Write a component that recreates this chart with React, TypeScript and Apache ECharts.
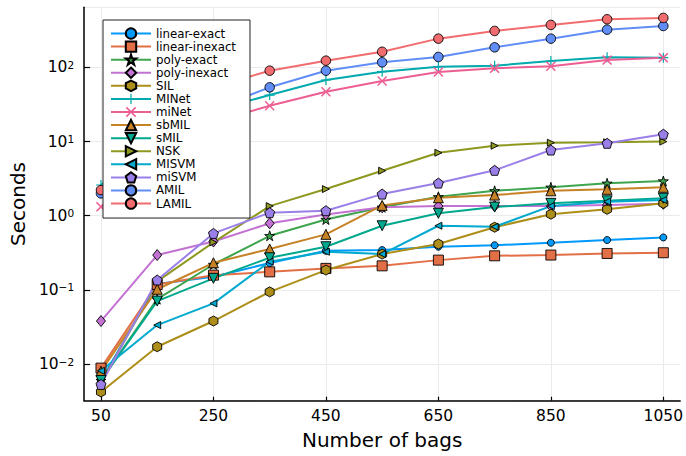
import React, { useEffect, useRef } from "react";
import * as echarts from "echarts";

const bags = [50, 150, 250, 350, 450, 550, 650, 750, 850, 950, 1050];
const xTicks = [50, 250, 450, 650, 850, 1050];

const linearExact = [0.006, 0.12, 0.15, 0.23, 0.337, 0.344, 0.382, 0.4, 0.432, 0.47, 0.51];
const linearInexact = [0.0088, 0.118, 0.158, 0.175, 0.195, 0.211, 0.252, 0.288, 0.295, 0.31, 0.317];
const polyExact = [0.006, 0.075, 0.22, 0.537, 0.89, 1.3, 1.8, 2.17, 2.42, 2.74, 2.94];
const polyInexact = [0.038, 0.295, 0.45, 0.79, 1.04, 1.3, 1.35, 1.35, 1.35, 1.4, 1.45];
const sil = [0.0042, 0.0171, 0.038, 0.094, 0.185, 0.304, 0.415, 0.7, 1.05, 1.22, 1.47];
const minet = [2.6, 10, 26.3, 42.5, 67.8, 87.8, 102.5, 105.7, 122.4, 137, 135.6];
const minetLower = [1.32, 6, 18.4, 30.5, 47.1, 65.7, 87, 97.5, 103.8, 126, 135.6];
const sbmil = [0.008, 0.102, 0.232, 0.356, 0.561, 1.38, 1.75, 1.9, 2.17, 2.27, 2.42];
const smil = [0.006, 0.0706, 0.143, 0.271, 0.382, 0.733, 1.08, 1.31, 1.47, 1.59, 1.72];
const nsk = [0.0055, 0.13, 0.438, 1.35, 2.29, 4.05, 7.08, 8.8, 9.67, 9.8, 10.0];
const misvm = [0.0081, 0.0335, 0.0657, 0.24, 0.327, 0.304, 0.733, 0.71, 1.35, 1.55, 1.63];
const misvmLower = [0.0053, 0.136, 0.578, 1.1, 1.17, 1.96, 2.76, 4.1, 7.7, 9.5, 12.6];
const amil = [2.0, 9, 27.5, 54, 90.6, 117.5, 138.6, 187, 245, 324, 363];
const lamil = [2.22, 18, 54, 90.6, 123.6, 163, 245, 311, 375, 447, 466];

const STAR = "path://M0,-1L0.2245,-0.309L0.951,-0.309L0.363,0.118L0.588,0.809L0,0.382L-0.588,0.809L-0.363,0.118L-0.951,-0.309L-0.2245,-0.309Z";
const HEX = "path://M0,-1L0.866,-0.5L0.866,0.5L0,1L-0.866,0.5L-0.866,-0.5Z";
const PENT = "path://M0,-1L0.951,-0.309L0.588,0.809L-0.588,0.809L-0.951,-0.309Z";
const PLUS = "path://M-0.12,-1L0.12,-1L0.12,-0.12L1,-0.12L1,0.12L0.12,0.12L0.12,1L-0.12,1L-0.12,0.12L-1,0.12L-1,-0.12L-0.12,-0.12Z";
const XCROSS = "path://M0.622,-0.792L0.792,-0.622L0.17,0L0.792,0.622L0.622,0.792L0,0.17L-0.622,0.792L-0.792,0.622L-0.17,0L-0.792,-0.622L-0.622,-0.792L0,-0.17Z";
const DTRI = "path://M-1,-0.8L1,-0.8L0,0.9Z";
const RTRI = "path://M-0.8,-1L0.9,0L-0.8,1Z";
const LTRI = "path://M0.8,-1L-0.9,0L0.8,1Z";

const seriesDefs = [
  { name: "linear-exact", data: linearExact, color: "#009afa", symbol: "circle", size: 7, border: true },
  { name: "linear-inexact", data: linearInexact, color: "#e36f47", symbol: "rect", size: 10, border: true },
  { name: "poly-exact", data: polyExact, color: "#3ea44e", symbol: STAR, size: 10, border: true },
  { name: "poly-inexact", data: polyInexact, color: "#c371d2", symbol: "diamond", size: [9, 11], border: true },
  { name: "SIL", data: sil, color: "#ac8e18", symbol: HEX, size: [9, 10], border: true },
  { name: "MINet", data: minet, color: "#00aaae", symbol: PLUS, size: 10, border: false },
  { name: "miNet", data: minetLower, color: "#ed5e93", symbol: XCROSS, size: 10, border: false },
  { name: "sbMIL", data: sbmil, color: "#c68225", symbol: "triangle", size: [10, 10], border: true },
  { name: "sMIL", data: smil, color: "#00a98d", symbol: DTRI, size: [10, 10], border: true },
  { name: "NSK", data: nsk, color: "#8e971e", symbol: RTRI, size: [7, 7], border: true },
  { name: "MISVM", data: misvm, color: "#00a9cd", symbol: LTRI, size: [7, 7], border: true },
  { name: "miSVM", data: misvmLower, color: "#9b7fe8", symbol: PENT, size: 10, border: true },
  { name: "AMIL", data: amil, color: "#618df6", symbol: "circle", size: 9.5, border: true },
  { name: "LAMIL", data: lamil, color: "#f16c6e", symbol: "circle", size: 9.5, border: true },
];

const FONT = "DejaVu Sans";

function supLabel(v: number) {
  const e = Math.round(Math.log10(v));
  const s = e < 0 ? "\u2212" + String(-e) : String(e);
  return "{b|10}{s|" + s + "}";
}

export default function App() {
  const ref = useRef<HTMLDivElement>(null);
  useEffect(() => {
    if (!ref.current) return;
    const chart = echarts.init(ref.current, null, { renderer: "svg" });
    chart.setOption({
      animation: false,
      backgroundColor: "#ffffff",
      textStyle: { fontFamily: FONT },
      grid: { left: 82, right: 1, top: 7.3, bottom: 55.3, containLabel: false },
      legend: {
        orient: "vertical",
        left: 103,
        top: 20,
        padding: [7, 14, 8, 7],
        itemWidth: 40,
        itemHeight: 13,
        itemGap: 0.08,
        backgroundColor: "#ffffff",
        borderColor: "#222222",
        borderWidth: 1,
        borderRadius: 0,
        textStyle: { fontFamily: FONT, fontSize: 11.8, color: "#000", lineHeight: 13 },
        data: seriesDefs.map((s) => s.name),
      },
      xAxis: {
        type: "value",
        min: 20,
        max: 1080,
        name: "Number of bags",
        nameLocation: "middle",
        nameGap: 29,
        nameTextStyle: { fontFamily: FONT, fontSize: 20, color: "#000" },
        axisLine: { show: true, onZero: false, lineStyle: { color: "#000", width: 1.5 } },
        axisTick: { show: true, inside: true, length: 4, customValues: xTicks, lineStyle: { color: "#000", width: 1.2 } },
        axisLabel: {
          customValues: xTicks,
          formatter: (v: number) => String(v),
          fontFamily: FONT,
          fontSize: 15.5,
          color: "#000",
          margin: 7,
        },
        splitLine: { show: true, lineStyle: { color: "#ebebeb", width: 1 } },
      },
      yAxis: {
        type: "log",
        logBase: 10,
        min: Math.pow(10, -2.495),
        max: Math.pow(10, 2.812),
        name: "Seconds",
        nameLocation: "middle",
        nameGap: 56,
        nameRotate: 90,
        nameTextStyle: { fontFamily: FONT, fontSize: 20, color: "#000" },
        axisLine: { show: true, lineStyle: { color: "#000", width: 1.5 } },
        axisTick: { show: true, inside: true, length: 6, lineStyle: { color: "#000", width: 1.2 } },
        axisLabel: {
          showMinLabel: false,
          showMaxLabel: false,
          margin: 10,
          formatter: (v: number) => supLabel(v),
          rich: {
            b: { fontFamily: FONT, fontSize: 15.5, lineHeight: 16, color: "#000", verticalAlign: "bottom" },
            s: { fontFamily: FONT, fontSize: 10.5, lineHeight: 11, color: "#000", verticalAlign: "top", padding: [0, 0, 9, 0] },
          },
        },
        splitLine: { show: true, lineStyle: { color: "#ebebeb", width: 1 } },
      },
      series: seriesDefs.map((s) => ({
        name: s.name,
        type: "line",
        data: bags.map((x, i) => [x, s.data[i]]),
        symbol: s.symbol,
        symbolSize: s.size,
        showSymbol: true,
        clip: false,
        lineStyle: { color: s.color, width: 2 },
        itemStyle: {
          color: s.color,
          borderColor: s.border ? "#000" : s.color,
          borderWidth: s.border ? 0.9 : 0,
        },
        emphasis: { disabled: true },
      })),
    });
    return () => chart.dispose();
  }, []);
  return <div ref={ref} style={{ position: "fixed", left: 0, top: 0, width: 686, height: 456 }} />;
}
